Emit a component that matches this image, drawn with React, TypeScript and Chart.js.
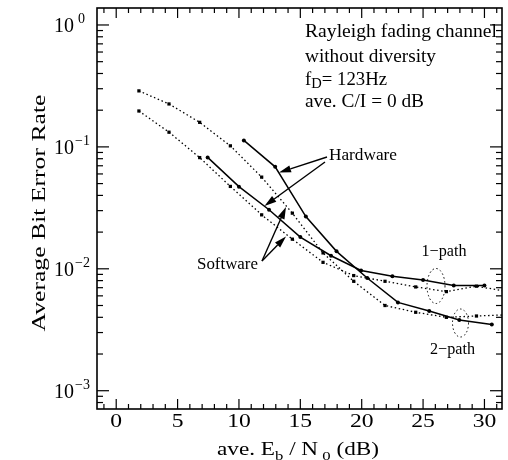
import React, { useEffect, useRef } from "react";
import { Chart, registerables } from "chart.js";

Chart.register(...registerables);

// ---- data ----
const swEbN0 = [1.85, 4.3, 6.8, 9.3, 11.85, 14.35, 16.85, 19.35, 21.9, 24.4, 26.9, 29.35, 31.9];
const swBer2path = [0.288, 0.225, 0.159, 0.102, 0.0565, 0.0286, 0.0135, 0.0079, 0.005, 0.0044, 0.004, 0.0041, 0.0042];
const swBer1path = [0.197, 0.132, 0.0817, 0.0474, 0.0277, 0.0175, 0.0113, 0.0088, 0.0079, 0.0071, 0.0065, 0.0072, 0.0065];

const hwEbN0_1path = [7.45, 10, 12.45, 15, 17.5, 19.95, 22.5, 25, 27.5, 30];
const hwBer1path = [0.082, 0.0472, 0.0305, 0.0182, 0.0128, 0.0097, 0.0087, 0.0081, 0.0073, 0.0073];

const hwEbN0_2path = [10.4, 12.95, 15.45, 17.95, 20.45, 22.95, 25.5, 27.95, 30.6];
const hwBer2path = [0.113, 0.0686, 0.0268, 0.0139, 0.0084, 0.0053, 0.0045, 0.0038, 0.0035];

const xTickLabels = [0, 5, 10, 15, 20, 25, 30];
const yTickExponents = [0, -1, -2, -3];

const FONT = '"Liberation Serif", "Times New Roman", serif';

type Seg = { t: string; size: number; dy?: number };

function drawRich(
  ctx: CanvasRenderingContext2D,
  segs: Seg[],
  x: number,
  y: number,
  targetW: number | null,
  align: "left" | "center" = "left"
) {
  let w = 0;
  const widths = segs.map((s) => {
    ctx.font = `${s.size}px ${FONT}`;
    const m = ctx.measureText(s.t).width;
    w += m;
    return m;
  });
  const sx = targetW ? targetW / w : 1;
  const total = w * sx;
  ctx.save();
  ctx.translate(align === "center" ? x - total / 2 : x, y);
  ctx.scale(sx, 1);
  ctx.textAlign = "left";
  ctx.textBaseline = "alphabetic";
  let cx = 0;
  segs.forEach((s, i) => {
    ctx.font = `${s.size}px ${FONT}`;
    ctx.fillText(s.t, cx, s.dy || 0);
    cx += widths[i];
  });
  ctx.restore();
}

function line(ctx: CanvasRenderingContext2D, x1: number, y1: number, x2: number, y2: number) {
  ctx.beginPath();
  ctx.moveTo(x1, y1);
  ctx.lineTo(x2, y2);
  ctx.stroke();
}

function arrow(ctx: CanvasRenderingContext2D, x1: number, y1: number, x2: number, y2: number) {
  ctx.lineWidth = 1.4;
  const ang = Math.atan2(y2 - y1, x2 - x1);
  const L = 12;
  const W = 3.6;
  const bx = x2 - L * Math.cos(ang);
  const by = y2 - L * Math.sin(ang);
  line(ctx, x1, y1, bx, by);
  ctx.beginPath();
  ctx.moveTo(x2, y2);
  ctx.lineTo(bx + W * Math.sin(ang), by - W * Math.cos(ang));
  ctx.lineTo(bx - W * Math.sin(ang), by + W * Math.cos(ang));
  ctx.closePath();
  ctx.fill();
}

const framePlugin = {
  id: "frameAxes",
  afterDraw(chart: any) {
    const { ctx, chartArea: a, scales } = chart;
    const xs = scales.x;
    const ys = scales.y;
    ctx.save();
    ctx.strokeStyle = "#000";
    ctx.fillStyle = "#000";
    ctx.lineWidth = 1.6;
    ctx.strokeRect(a.left, a.top, a.right - a.left, a.bottom - a.top);

    ctx.lineWidth = 1.2;
    for (let v = Math.ceil(xs.min); v <= Math.floor(xs.max); v++) {
      const px = xs.getPixelForValue(v);
      const len = v % 5 === 0 ? 10 : 5;
      line(ctx, px, a.bottom, px, a.bottom - len);
      line(ctx, px, a.top, px, a.top + len);
    }
    for (let e = -4; e <= 0; e++) {
      for (let m = 1; m <= 9; m++) {
        const v = m * Math.pow(10, e);
        if (v < ys.min || v > ys.max) continue;
        const py = ys.getPixelForValue(v);
        const len = m === 1 ? 12 : 6;
        line(ctx, a.left, py, a.left + len, py);
        line(ctx, a.right, py, a.right - len, py);
      }
    }

    // x tick labels
    xTickLabels.forEach((v) => {
      const px = xs.getPixelForValue(v);
      drawRich(ctx, [{ t: String(v), size: 19 }], px, a.bottom + 18, String(v).length * 11.8, "center");
    });
    // y tick labels
    yTickExponents.forEach((e) => {
      const py = ys.getPixelForValue(Math.pow(10, e));
      const expStr = e === 0 ? "0" : "\u2212" + String(-e);
      drawRich(ctx, [{ t: "10", size: 20 }], a.left - 43, py + 7, 20);
      drawRich(ctx, [{ t: expStr, size: 14 }], a.left - (e === 0 ? 19 : 22), py - 2, null);
    });

    // axis titles
    drawRich(
      ctx,
      [
        { t: "ave. E", size: 18 },
        { t: "b", size: 13, dy: 5 },
        { t: " / N", size: 18 },
        { t: " 0", size: 13, dy: 5 },
        { t: " (dB)", size: 18 },
      ],
      217,
      455,
      162
    );
    ctx.save();
    ctx.translate(45, 213);
    ctx.rotate(-Math.PI / 2);
    drawRich(ctx, [{ t: "Average Bit Error Rate", size: 19 }], 0, 0, 237, "center");
    ctx.restore();
    ctx.restore();
  },
};

const annotPlugin = {
  id: "annotations",
  afterDatasetsDraw(chart: any) {
    const { ctx } = chart;
    ctx.save();
    ctx.fillStyle = "#000";
    ctx.strokeStyle = "#000";
    drawRich(ctx, [{ t: "Rayleigh fading channel", size: 18 }], 305, 37, 192);
    drawRich(ctx, [{ t: "without diversity", size: 18 }], 305, 61.5, 131);
    drawRich(
      ctx,
      [
        { t: "f", size: 18 },
        { t: "D", size: 14, dy: 3 },
        { t: "= 123Hz", size: 18 },
      ],
      305,
      85,
      82
    );
    drawRich(ctx, [{ t: "ave. C/I = 0 dB", size: 18 }], 305, 106.5, 119);
    drawRich(ctx, [{ t: "Hardware", size: 17 }], 329, 160, 68);
    drawRich(ctx, [{ t: "Software", size: 17 }], 197, 269, 61);
    drawRich(ctx, [{ t: "1\u2212path", size: 17 }], 421.5, 255.5, 45);
    drawRich(ctx, [{ t: "2\u2212path", size: 17 }], 430, 354, 45);

    arrow(ctx, 327, 157, 279, 172.5);
    arrow(ctx, 325, 162, 264.5, 206);
    arrow(ctx, 262, 261, 286, 207);
    arrow(ctx, 262, 261, 286, 236.5);

    ctx.lineWidth = 1;
    ctx.setLineDash([1.5, 2.5]);
    ctx.beginPath();
    ctx.ellipse(436, 286, 9, 17.5, 0, 0, Math.PI * 2);
    ctx.stroke();
    ctx.beginPath();
    ctx.ellipse(460.5, 323, 8, 14, 0, 0, Math.PI * 2);
    ctx.stroke();
    ctx.restore();
  },
};

function pts(xs: number[], ys: number[]) {
  return xs.map((x, i) => ({ x, y: ys[i] }));
}

export default function App() {
  const ref = useRef<HTMLCanvasElement | null>(null);
  useEffect(() => {
    document.body.style.margin = "0";
    if (!ref.current) return;
    const dotted = {
      showLine: true,
      borderColor: "#000",
      borderWidth: 1.3,
      borderDash: [1.5, 2.6],
      pointStyle: "rect",
      pointRadius: 2.3,
      pointBackgroundColor: "#000",
      pointBorderWidth: 0,
    };
    const solid = {
      showLine: true,
      borderColor: "#000",
      borderWidth: 1.5,
      pointStyle: "circle",
      pointRadius: 2,
      pointBackgroundColor: "#000",
      pointBorderWidth: 0,
    };
    const chart = new Chart(ref.current, {
      type: "scatter",
      data: {
        datasets: [
          { label: "Software 2-path", data: pts(swEbN0, swBer2path), ...dotted },
          { label: "Software 1-path", data: pts(swEbN0, swBer1path), ...dotted },
          { label: "Hardware 1-path", data: pts(hwEbN0_1path, hwBer1path), ...solid },
          { label: "Hardware 2-path", data: pts(hwEbN0_2path, hwBer2path), ...solid },
        ] as any,
      },
      options: {
        responsive: false,
        animation: false,
        layout: { padding: { left: 97, top: 8, right: 6, bottom: 51 } },
        plugins: { legend: { display: false }, tooltip: { enabled: false } },
        scales: {
          x: { type: "linear", min: -1.565, max: 31.43, display: false },
          y: { type: "logarithmic", min: 7.08e-4, max: 1.378, display: false },
        },
      },
      plugins: [framePlugin, annotPlugin],
    });
    return () => chart.destroy();
  }, []);
  return (
    <div style={{ width: 508, height: 460, background: "#fff" }}>
      <canvas ref={ref} width={508} height={460} style={{ display: "block" }} />
    </div>
  );
}
